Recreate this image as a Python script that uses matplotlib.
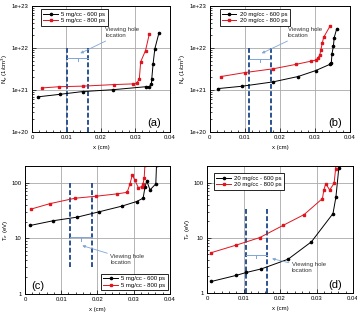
import matplotlib
matplotlib.use("Agg")
import matplotlib.pyplot as plt
from matplotlib.ticker import FuncFormatter, MultipleLocator, LogLocator

plt.rcParams['font.family'] = ['Liberation Sans', 'DejaVu Sans']

# ---- data ----
# (a) electron density, 5 mg/cc
a_x600 = [0.0018, 0.0081, 0.0147, 0.0236, 0.0330, 0.0340, 0.0346, 0.0347, 0.0351, 0.0356, 0.0368]
a_n600 = [6.9e20, 7.9e20, 9.2e20, 1.02e21, 1.2e21, 1.2e21, 1.4e21, 1.8e21, 4.2e21, 9.6e21, 2.3e22]
a_x800 = [0.0028, 0.0079, 0.0149, 0.0239, 0.0292, 0.0303, 0.0311, 0.0315, 0.0329, 0.0340]
a_n800 = [1.12e21, 1.2e21, 1.24e21, 1.35e21, 1.4e21, 1.45e21, 1.8e21, 4.7e21, 8.7e21, 2.15e22]

# (b) electron density, 20 mg/cc
b_x600 = [0.0022, 0.0091, 0.0180, 0.0252, 0.0302, 0.0343, 0.0347, 0.0349, 0.0353, 0.0355, 0.0362]
b_n600 = [1.08e21, 1.23e21, 1.56e21, 2.1e21, 2.9e21, 4.1e21, 4.5e21, 7.4e21, 1.1e22, 1.75e22, 2.8e22]
b_x800 = [0.0032, 0.0099, 0.0180, 0.0247, 0.0290, 0.0304, 0.0309, 0.0314, 0.0317, 0.0321, 0.0325, 0.0343]
b_n800 = [2.1e21, 2.6e21, 3.2e21, 4.1e21, 4.9e21, 5.2e21, 5.9e21, 6.8e21, 9.0e21, 1.3e22, 1.8e22, 3.3e22]

# (c) electron temperature, 5 mg/cc
c_x600 = [0.0014, 0.0078, 0.0144, 0.0205, 0.0267, 0.0308, 0.0326, 0.0331, 0.0336, 0.0345, 0.0361, 0.0363]
c_t600 = [17, 20.7, 24, 30, 37.8, 45.8, 52.5, 82, 108, 74, 95, 210]
c_x800 = [0.0016, 0.0069, 0.0138, 0.0196, 0.0255, 0.0282, 0.0290, 0.0296, 0.0303, 0.0313, 0.0322, 0.0326, 0.0329, 0.0331]
c_t800 = [33.4, 42, 52.5, 57, 63, 67, 96, 137, 112, 81, 85, 96, 123, 210]

# (d) electron temperature, 20 mg/cc
d_x600 = [0.0012, 0.0079, 0.0108, 0.0149, 0.0222, 0.0286, 0.0345, 0.0353, 0.0361]
d_t600 = [1.62, 2.08, 2.36, 2.74, 4.1, 8.5, 27.6, 55, 187]
d_x800 = [0.0012, 0.0080, 0.0144, 0.0208, 0.0266, 0.0316, 0.0320, 0.0325, 0.0336, 0.0348, 0.0352, 0.0353]
d_t800 = [5.4, 7.4, 10.1, 16.8, 26.5, 51.6, 74, 96, 74, 98, 174, 210]

# viewing hole edges (cm)
hole_a = [0.0102, 0.0163]
hole_b = [0.0113, 0.0175]
hole_c = [0.0124, 0.0184]
hole_d = [0.0106, 0.0163]

labels_5 = ["5 mg/cc - 600 ps", "5 mg/cc - 800 ps"]
labels_20 = ["20 mg/cc - 600 ps", "20 mg/cc - 800 ps"]

DASH = "#2b5390"
LIGHT = "#7fa6d6"
FS = 4.3

fig = plt.figure(figsize=(3.57, 3.14), dpi=100)
ax_a = fig.add_axes([0.0896, 0.5796, 0.3866, 0.401])
ax_b = fig.add_axes([0.588, 0.5796, 0.392, 0.401])
ax_c = fig.add_axes([0.070, 0.0637, 0.406, 0.408])
ax_d = fig.add_axes([0.580, 0.0669, 0.409, 0.404])


def style(ax, ylim, yfmt, ylabel):
    ax.set_yscale("log")
    ax.set_xlim(0, 0.04)
    ax.set_ylim(*ylim)
    ax.xaxis.set_major_locator(MultipleLocator(0.01))
    ax.xaxis.set_minor_locator(MultipleLocator(0.002))
    ax.xaxis.set_major_formatter(FuncFormatter(lambda v, p: "%g" % round(v, 3)))
    ax.yaxis.set_major_locator(LogLocator(base=10))
    ax.yaxis.set_minor_locator(LogLocator(base=10, subs=range(2, 10)))
    ax.yaxis.set_major_formatter(FuncFormatter(yfmt))
    ax.tick_params(which="both", direction="in", labelsize=FS, width=0.5, pad=2.5)
    ax.tick_params(which="major", length=3)
    ax.tick_params(which="minor", length=1.5)
    ax.grid(True, which="major", color="#a8a8a8", lw=0.6)
    ax.set_axisbelow(True)
    for s in ax.spines.values():
        s.set_linewidth(0.7)
    ax.set_xlabel("x (cm)", fontsize=FS, labelpad=3)
    ax.set_ylabel(ylabel, fontsize=FS, labelpad=1)


def series(ax, x1, y1, x2, y2, labels):
    ax.plot(x1, y1, color="black", lw=0.7, marker="o", ms=1.6, label=labels[0])
    ax.plot(x2, y2, color="#e0141e", lw=0.7, marker="s", ms=1.7, label=labels[1])


def hole(ax, xs, ytop, ybot, ybr, ytick, text_xy, arrow_xy):
    for x in xs:
        ax.plot([x, x], [ybot, ytop], color=DASH, lw=1.4, ls=(0, (2.5, 1.2)))
    ax.plot(xs, [ybr, ybr], color=LIGHT, lw=0.7)
    xm = (xs[0] + xs[1]) / 2
    ax.plot([xm, xm], [ybr, ytick], color=LIGHT, lw=0.7)
    ax.annotate("Viewing hole\nlocation", xy=arrow_xy, xytext=text_xy,
                fontsize=FS, color="#333333", ha="left", va="center",
                arrowprops=dict(arrowstyle="-|>", color=LIGHT, lw=0.6,
                                mutation_scale=4, shrinkA=0, shrinkB=0),
                linespacing=1.2)


def legend(ax, loc, anchor):
    leg = ax.legend(loc=loc, bbox_to_anchor=anchor, fontsize=FS, frameon=True,
                    fancybox=False, edgecolor="black", framealpha=1,
                    handlelength=2.4, borderpad=0.4, labelspacing=0.25,
                    handletextpad=0.6, borderaxespad=0)
    leg.get_frame().set_linewidth(0.6)


sci = lambda v, p: "%.0e" % v
plain = lambda v, p: "%g" % v

# (a)
style(ax_a, (1e20, 1e23), sci, r"N$_e$ (1/cm$^3$)")
hole(ax_a, hole_a, 1e22, 1e20, 5.8e21, 4.8e21, (0.0213, 2.3e22), (0.0140, 7.5e21))
series(ax_a, a_x600, a_n600, a_x800, a_n800, labels_5)
legend(ax_a, "upper left", (0.065, 0.975))
ax_a.text(0.935, 0.035, "(a)", transform=ax_a.transAxes, fontsize=8, ha="right", va="bottom")

# (b)
style(ax_b, (1e20, 1e23), sci, r"N$_e$ (1/cm$^3$)")
hole(ax_b, hole_b, 1e22, 1e20, 5.5e21, 4.6e21, (0.0222, 2.3e22), (0.0148, 7.5e21))
series(ax_b, b_x600, b_n600, b_x800, b_n800, labels_20)
legend(ax_b, "upper left", (0.07, 0.975))
ax_b.text(0.943, 0.035, "(b)", transform=ax_b.transAxes, fontsize=8, ha="right", va="bottom")

# (c)
style(ax_c, (1, 200), plain, r"T$_e$ (eV)")
hole(ax_c, hole_c, 100, 3.0, 10.4, 8.8, (0.0235, 4.2), (0.0158, 7.4))
series(ax_c, c_x600, c_t600, c_x800, c_t800, labels_5)
legend(ax_c, "lower right", (0.986, 0.03))
ax_c.text(0.04, 0.02, "(c)", transform=ax_c.transAxes, fontsize=8, ha="left", va="bottom")

# (d)
style(ax_d, (1, 200), plain, r"T$_e$ (eV)")
hole(ax_d, hole_d, 36, 1.0, 4.9, 4.3, (0.0232, 2.9), (0.0178, 4.2))
series(ax_d, d_x600, d_t600, d_x800, d_t800, labels_20)
legend(ax_d, "upper left", (0.048, 0.945))
ax_d.text(0.925, 0.02, "(d)", transform=ax_d.transAxes, fontsize=8, ha="right", va="bottom")

fig.savefig("out.png", dpi=100)
